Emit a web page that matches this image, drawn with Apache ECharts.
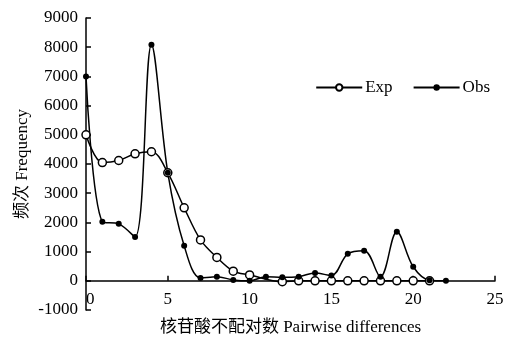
<!DOCTYPE html>
<html>
<head>
<meta charset="utf-8">
<script src="https://cdn.jsdelivr.net/npm/echarts@6/dist/echarts.min.js"></script>
<style>
  html, body { margin: 0; padding: 0; background: #fff; }
  #chart { width: 507px; height: 338px; }
</style>
</head>
<body>
<div id="chart"></div>
<script>
// pairwise differences (x) and frequencies
const expX = [0, 1, 2, 3, 4, 5, 6, 7, 8, 9, 10, 12, 13, 14, 15, 16, 17, 18, 19, 20, 21]
const expY = [5000, 4050, 4120, 4350, 4420, 3700, 2500, 1400, 800, 330, 200, -30, 0, 0, 0, 0, 0, 0, 0, 0, 0]
const obsX = [0, 1, 2, 3, 4, 5, 6, 7, 8, 9, 10, 11, 12, 13, 14, 15, 16, 17, 18, 19, 20, 21, 22]
const obsY = [7000, 2020, 1950, 1500, 8080, 3700, 1200, 100, 140, 30, 0, 140, 120, 140, 270, 180, 925, 1030, 140, 1680, 480, 20, 0]

const xTicks = { min: 0, max: 25, interval: 5 }
const yTicks = { min: -1000, max: 9000, interval: 1000 }

const font = '"Liberation Serif", "Noto Sans CJK SC", serif'
const ink = '#000'

function pairs(xs, ys) {
  return xs.map((x, i) => [x, ys[i]])
}

const chart = echarts.init(document.getElementById('chart'), null, { renderer: 'canvas' })

chart.setOption({
  animation: false,
  textStyle: { fontFamily: font, color: ink },
  grid: { left: 86, right: 12, top: 18, bottom: 28, containLabel: false, outerBoundsMode: 'none' },
  legend: {
    right: 12,
    top: 74,
    itemWidth: 46,
    itemHeight: 8,
    itemGap: 20,
    textStyle: { fontFamily: font, fontSize: 17, color: ink, padding: [0, 0, 0, -2] },
    data: ['Exp', 'Obs']
  },
  xAxis: {
    type: 'value',
    min: xTicks.min,
    max: xTicks.max,
    interval: xTicks.interval,
    name: '核苷酸不配对数 Pairwise differences',
    nameLocation: 'middle',
    nameGap: 9,
    nameMoveOverlap: false,
    nameTextStyle: { fontFamily: font, fontSize: 17, color: ink },
    axisLine: { onZero: true, lineStyle: { color: ink, width: 1.5 } },
    axisTick: { inside: true, length: 5, lineStyle: { color: ink, width: 1.5 } },
    axisLabel: { fontFamily: font, fontSize: 17, color: ink, margin: -19, alignMinLabel: 'left', hideOverlap: false },
    splitLine: { show: false }
  },
  yAxis: {
    type: 'value',
    min: yTicks.min,
    max: yTicks.max,
    interval: yTicks.interval,
    name: '频次 Frequency',
    nameLocation: 'middle',
    nameGap: 55,
    nameMoveOverlap: false,
    nameTextStyle: { fontFamily: font, fontSize: 17, color: ink },
    axisLine: { show: true, onZero: false, lineStyle: { color: ink, width: 1.5 } },
    axisTick: { show: true, inside: true, length: 5, lineStyle: { color: ink, width: 1.5 } },
    axisLabel: { fontFamily: font, fontSize: 17, color: ink, margin: 8, formatter: (v) => String(v) },
    splitLine: { show: false }
  },
  series: [
    {
      name: 'Exp',
      type: 'line',
      smooth: 0.35,
      symbol: 'circle',
      symbolSize: 8,
      lineStyle: { color: ink, width: 1.5 },
      itemStyle: { color: '#fff', borderColor: ink, borderWidth: 1.5 },
      data: pairs(expX, expY)
    },
    {
      name: 'Obs',
      type: 'line',
      smooth: 0.35,
      symbol: 'circle',
      symbolSize: 6,
      lineStyle: { color: ink, width: 1.5 },
      itemStyle: { color: ink, borderColor: ink, borderWidth: 0 },
      data: pairs(obsX, obsY)
    }
  ]
})
</script>
</body>
</html>
